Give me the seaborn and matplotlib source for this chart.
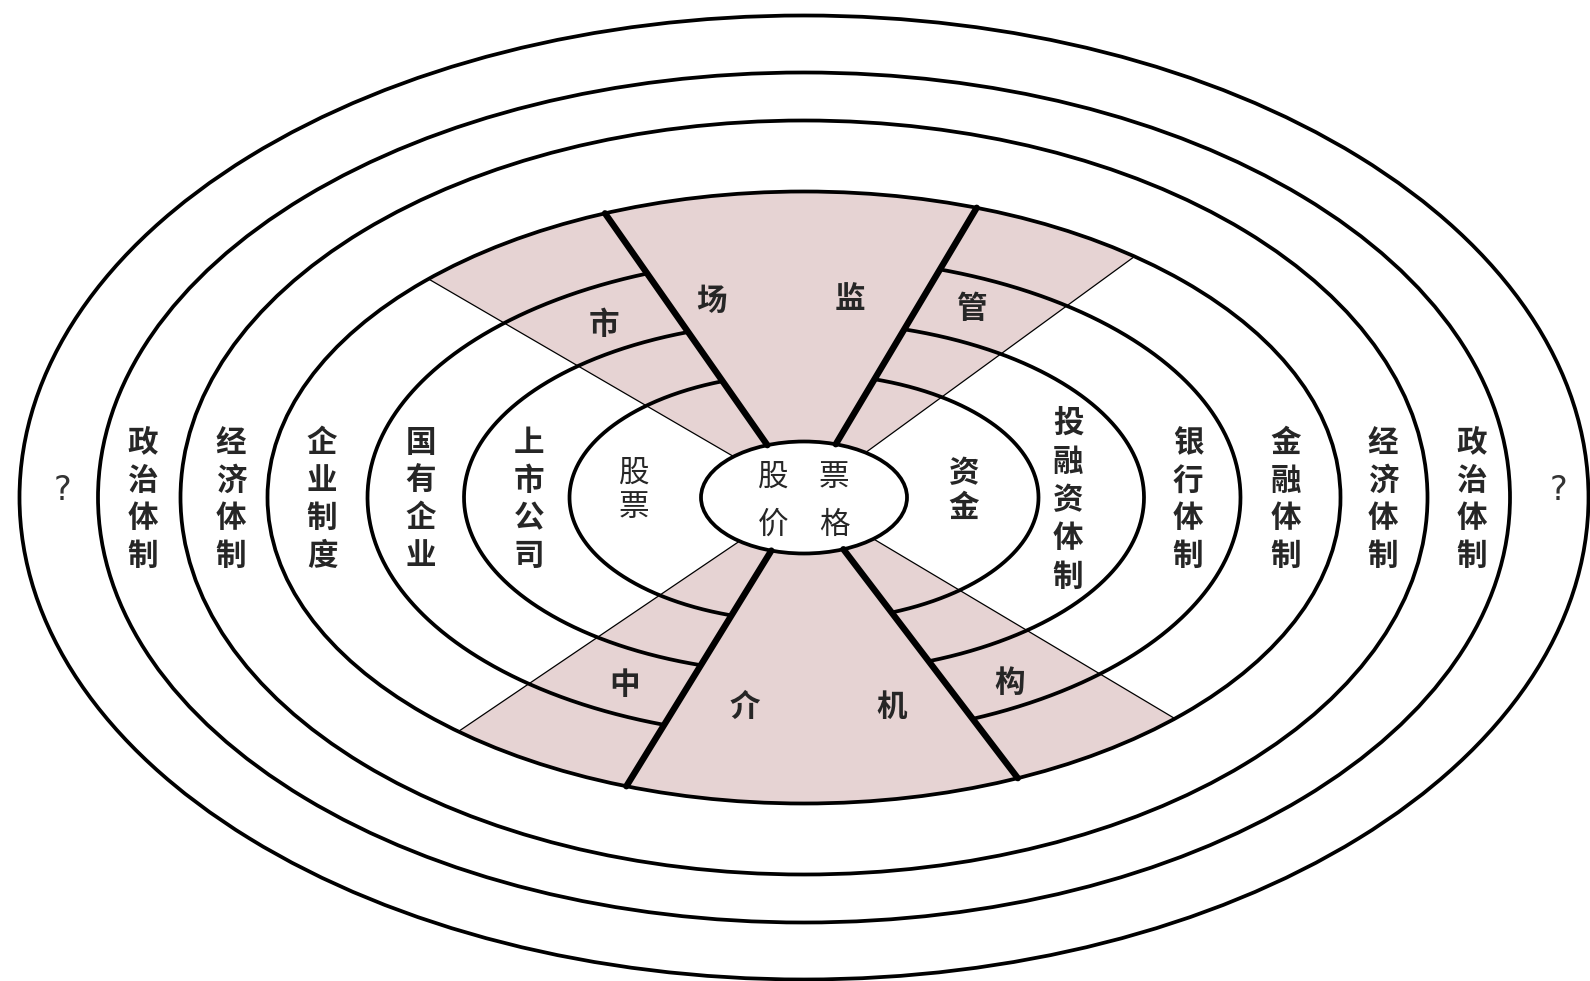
import numpy as np
import matplotlib
matplotlib.use("Agg")
import matplotlib.pyplot as plt
from matplotlib.patches import Ellipse, Polygon
import seaborn as sns

sns.set_theme(style="white")
plt.rcParams['font.family'] = ['Noto Sans CJK SC', 'DejaVu Sans']

# ring geometry (semi-axes, pixels), innermost first
ring_a = [103, 234.5, 340, 436.5, 536.5, 623.5, 706, 784.5]
ring_b = [56, 124, 176, 240, 306, 377, 425, 482]

# ray directions (degrees, counter-clockwise from +x)
thick_angles = [125.0, 59.2, -121.6, -52.7]
thin_angles = [149.8, 36.1, -145.9, -30.8]

# labels
center_label = ["股", "票", "价", "格"]
left_labels = ["?", "政治体制", "经济体制", "企业制度", "国有企业", "上市公司", "股票"]
right_labels = ["资金", "投融资体制", "银行体制", "金融体制", "经济体制", "政治体制", "?"]
top_labels = ["市", "场", "监", "管"]
bottom_labels = ["中", "介", "机", "构"]

# layout
CX, CY = 804, 497.5
left_x = [63, 143, 231, 322, 421, 529, 634]
right_x = [964, 1068, 1188, 1286, 1383, 1472, 1558]
top_pos = [(604, 325), (711, 301), (850, 299), (971, 309)]
bottom_pos = [(625, 685), (745, 707), (892, 707), (1010, 683)]
center_pos = [(773, 477), (834, 477), (773, 525), (834, 525)]
PINK = "#e6d3d3"
LW_RING, LW_THICK, LW_THIN = 2.7, 4.6, 0.9
FS = 22


def edge(a, b, phi_deg):
    phi = np.radians(phi_deg)
    r = 1.0 / np.sqrt((np.cos(phi) / a) ** 2 + (np.sin(phi) / b) ** 2)
    return CX + r * np.cos(phi), CY - r * np.sin(phi)


def sector(p0, p1):
    phis = np.linspace(p0, p1, 300)
    xo, yo = edge(ring_a[4], ring_b[4], phis)
    xi, yi = edge(ring_a[0], ring_b[0], phis[::-1])
    return np.column_stack([np.r_[xo, xi], np.r_[yo, yi]])


fig = plt.figure(figsize=(15.9, 9.81), dpi=100)
ax = fig.add_axes([0, 0, 1, 1])
ax.set_xlim(0, 1590)
ax.set_ylim(981, 0)
ax.axis("off")

# shaded sectors (top and bottom)
ax.add_patch(Polygon(sector(thin_angles[1], thin_angles[0]), closed=True,
                     facecolor=PINK, edgecolor="none", zorder=0))
ax.add_patch(Polygon(sector(thin_angles[2], thin_angles[3]), closed=True,
                     facecolor=PINK, edgecolor="none", zorder=0))

# full ellipses
for i in [0, 4, 5, 6, 7]:
    ax.add_patch(Ellipse((CX, CY), 2 * ring_a[i], 2 * ring_b[i], facecolor="none",
                         edgecolor="black", lw=LW_RING, zorder=3))
# inner white disc for the centre
ax.add_patch(Ellipse((CX, CY), 2 * ring_a[0], 2 * ring_b[0], facecolor="white",
                     edgecolor="none", zorder=1))

# partial rings, broken by the central wedges
for i in [1, 2, 3]:
    for p0, p1 in [(thick_angles[0], 360 + thick_angles[2]), (thick_angles[3], thick_angles[1])]:
        xs, ys = edge(ring_a[i], ring_b[i], np.linspace(p0, p1, 400))
        sns.lineplot(x=xs, y=ys, sort=False, estimator=None, color="black",
                     lw=LW_RING, ax=ax, zorder=3)

# rays
for angles, lw in [(thick_angles, LW_THICK), (thin_angles, LW_THIN)]:
    for phi in angles:
        x0, y0 = edge(ring_a[0], ring_b[0], phi)
        x1, y1 = edge(ring_a[4], ring_b[4], phi)
        sns.lineplot(x=[x0, x1], y=[y0, y1], sort=False, estimator=None,
                     color="black", lw=lw, ax=ax, zorder=4)


def column(text, x, step=37.5, yc=499.5, **kw):
    n = len(text)
    if n == 2:
        yc, step = 490.5, 35
    for k, ch in enumerate(text):
        y = yc + (k - (n - 1) / 2) * step
        ax.text(x, y, ch, ha="center", va="center", zorder=5, **kw)


for lab, x in zip(left_labels + right_labels, left_x + right_x):
    if lab == "?":
        ax.text(x, 490, lab, ha="center", va="center", fontsize=24,
                color="#333333", family=["DejaVu Sans"], zorder=5)
    elif lab == "投融资体制":
        column(lab, x, step=38.5, yc=500, fontsize=FS, weight="bold")
    elif lab == "股票":
        column(lab, x, fontsize=FS)
    else:
        column(lab, x, fontsize=FS, weight="bold")

for ch, (x, y) in zip(top_labels + bottom_labels, top_pos + bottom_pos):
    ax.text(x, y, ch, ha="center", va="center", fontsize=FS, weight="bold", zorder=5)

for ch, (x, y) in zip(center_label, center_pos):
    ax.text(x, y, ch, ha="center", va="center", fontsize=FS, zorder=5)

fig.savefig("out.png", dpi=100, facecolor="white")
